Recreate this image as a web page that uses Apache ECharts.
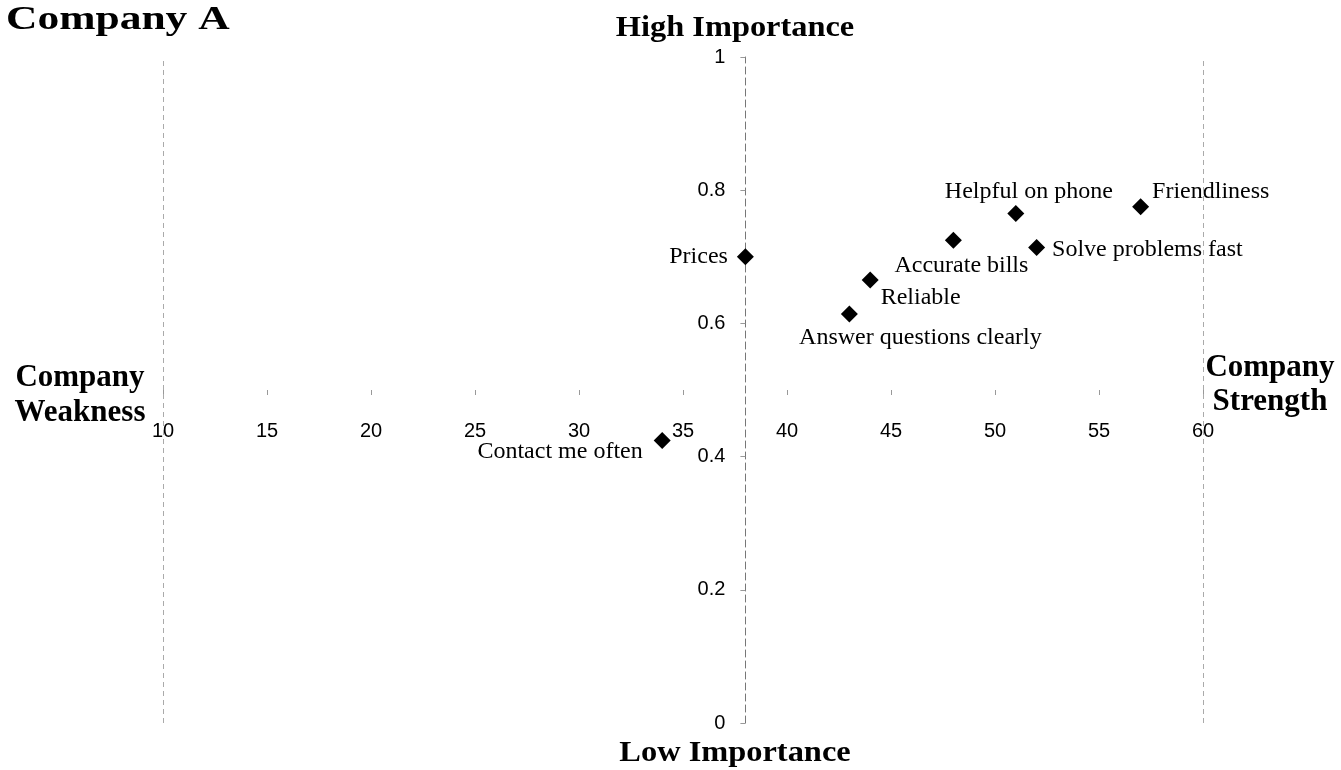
<!DOCTYPE html>
<html>
<head>
<meta charset="utf-8">
<title>Company A</title>
<script src="https://cdn.jsdelivr.net/npm/echarts@6/dist/echarts.min.js"></script>
<style>
  html, body { margin: 0; padding: 0; background: #fff; }
  #chart { width: 1341px; height: 770px; }
</style>
</head>
<body>
<div id="chart"></div>
<script>
// Attributes rated by customers: performance score (x) and importance (y)
const categories = [
  'Prices',
  'Friendliness',
  'Helpful on phone',
  'Solve problems fast',
  'Accurate bills',
  'Reliable',
  'Answer questions clearly',
  'Contact me often'
];
const performance = [38, 57, 51, 52, 48, 44, 43, 34];
const importance = [0.70, 0.775, 0.765, 0.714, 0.725, 0.665, 0.614, 0.424];

// Axis ranges and the point where the two axes cross
const xRange = { min: 10, max: 60, interval: 5 };
const yRange = { min: 0, max: 1, interval: 0.2 };
const xCross = 38;
const yCross = 0.5;

// Label placement around each marker
const labelPlacement = {
  'Prices':                   { position: 'left',   distance: 9,  offset: [0, 0] },
  'Friendliness':             { position: 'right',  distance: 3,  offset: [0, -15] },
  'Helpful on phone':         { position: 'top',    distance: 1,  offset: [13, 0] },
  'Solve problems fast':      { position: 'right',  distance: 7,  offset: [0, 2] },
  'Accurate bills':           { position: 'bottom', distance: 5,  offset: [8, 0] },
  'Reliable':                 { position: 'right',  distance: 2,  offset: [0, 18] },
  'Answer questions clearly': { position: 'bottom', distance: 3,  offset: [71, 0] },
  'Contact me often':         { position: 'left',   distance: 11, offset: [0, 11] }
};

const W = 1341, H = 770;
const grid = { left: 163, right: 138, top: 57, bottom: 47 };
const gridW = W - grid.left - grid.right;
const gridH = H - grid.top - grid.bottom;

// Shift the axes so that they cross inside the plot
const yAxisOffset = -gridW * (xCross - xRange.min) / (xRange.max - xRange.min);
const xAxisOffset = -gridH * (yCross - yRange.min) / (yRange.max - yRange.min);

const serif = '"Liberation Serif", "Times New Roman", serif';
const sans = '"Liberation Sans", Arial, sans-serif';

const points = categories.map((name, i) => ({
  name: name,
  value: [performance[i], importance[i]],
  label: labelPlacement[name]
}));

const chart = echarts.init(document.getElementById('chart'), null, { renderer: 'canvas' });

chart.setOption({
  backgroundColor: '#ffffff',
  animation: false,
  grid: Object.assign({ outerBoundsMode: 'none', containLabel: false }, grid),
  xAxis: {
    type: 'value',
    min: xRange.min,
    max: xRange.max,
    interval: xRange.interval,
    position: 'bottom',
    offset: xAxisOffset,
    axisLine: { show: false },
    axisTick: { show: true, length: 5, lineStyle: { color: '#999', width: 1 } },
    axisLabel: {
      margin: 31,
      color: '#000',
      fontFamily: sans,
      fontSize: 20
    },
    splitLine: { show: false }
  },
  yAxis: {
    type: 'value',
    min: yRange.min,
    max: yRange.max,
    interval: yRange.interval,
    position: 'left',
    offset: yAxisOffset,
    axisLine: { show: true, lineStyle: { color: '#777', width: 1, type: [7, 4] } },
    axisTick: { show: true, length: 5, lineStyle: { color: '#999', width: 1 } },
    axisLabel: {
      margin: 20,
      color: '#000',
      fontFamily: sans,
      fontSize: 20,
      formatter: v => String(Math.round(v * 10) / 10)
    },
    splitLine: { show: false }
  },
  series: [{
    type: 'scatter',
    symbol: 'diamond',
    symbolSize: 17,
    itemStyle: { color: '#000', opacity: 1 },
    label: {
      show: true,
      formatter: p => p.name,
      color: '#000',
      fontFamily: serif,
      fontSize: 24
    },
    emphasis: { disabled: true },
    data: points,
    markLine: {
      silent: true,
      symbol: ['none', 'none'],
      label: { show: false },
      lineStyle: { color: '#aaa', width: 1, type: [5, 4] },
      data: [{ xAxis: xRange.min }, { xAxis: xRange.max }]
    }
  }],
  graphic: [
    {
      type: 'text', x: 6, y: 20, scaleX: 1.28,
      style: { text: 'Company A', font: 'bold 34px ' + serif, fill: '#000',
               textAlign: 'left', textVerticalAlign: 'middle' }
    },
    {
      type: 'text', x: 735, y: 28, scaleX: 1.08,
      style: { text: 'High Importance', font: 'bold 30px ' + serif, fill: '#000',
               textAlign: 'center', textVerticalAlign: 'middle' }
    },
    {
      type: 'text', x: 735, y: 753, scaleX: 1.08,
      style: { text: 'Low Importance', font: 'bold 30px ' + serif, fill: '#000',
               textAlign: 'center', textVerticalAlign: 'middle' }
    },
    {
      type: 'text', x: 80, y: 378,
      style: { text: 'Company', font: 'bold 31px ' + serif, fill: '#000',
               textAlign: 'center', textVerticalAlign: 'middle' }
    },
    {
      type: 'text', x: 80, y: 413,
      style: { text: 'Weakness', font: 'bold 31px ' + serif, fill: '#000',
               textAlign: 'center', textVerticalAlign: 'middle' }
    },
    {
      type: 'text', x: 1270, y: 368,
      style: { text: 'Company', font: 'bold 31px ' + serif, fill: '#000',
               textAlign: 'center', textVerticalAlign: 'middle' }
    },
    {
      type: 'text', x: 1270, y: 402,
      style: { text: 'Strength', font: 'bold 31px ' + serif, fill: '#000',
               textAlign: 'center', textVerticalAlign: 'middle' }
    }
  ]
});
</script>
</body>
</html>
